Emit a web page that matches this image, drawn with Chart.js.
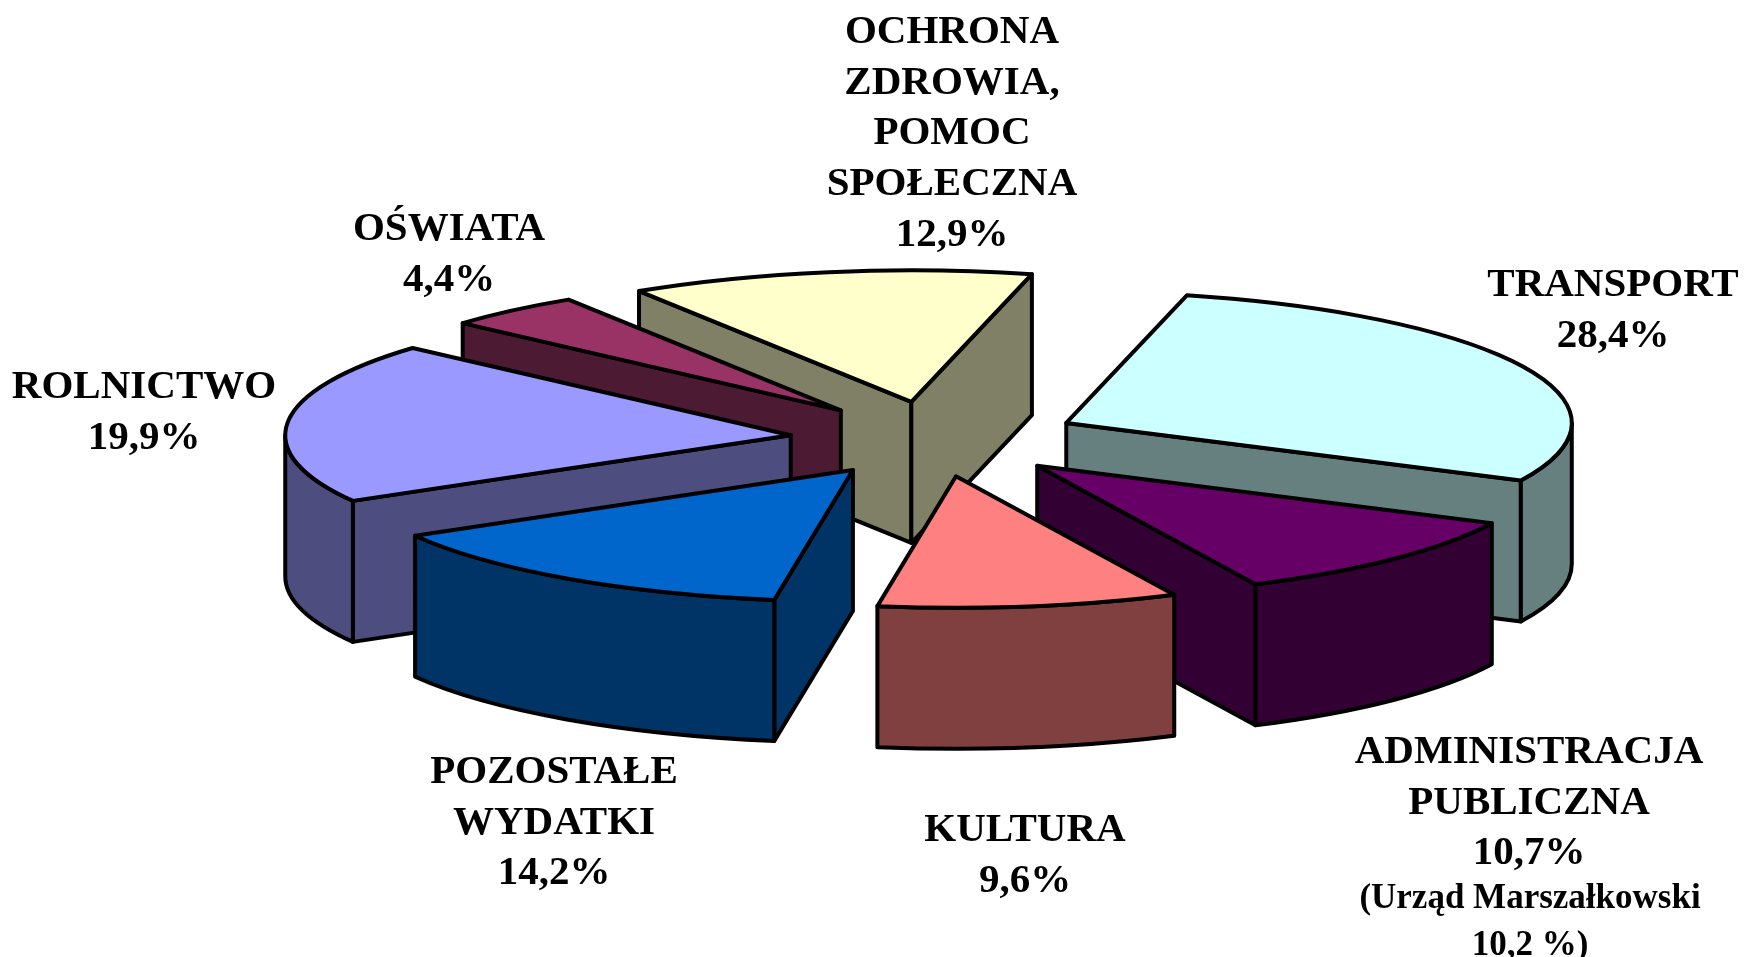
<!DOCTYPE html>
<html lang="pl">
<head>
    <meta charset="UTF-8">
    <title>Wydatki</title>
    <script src="https://cdn.jsdelivr.net/npm/chart.js"></script>
    <style>
        html, body { margin: 0; background: #fff; }
        #wrap { width: 1746px; height: 957px; }
    </style>
</head>
<body>
    <div id="wrap"><canvas id="grafWydatki"></canvas></div>

<script>
    const kategorie = ['TRANSPORT', 'ADMINISTRACJA PUBLICZNA', 'KULTURA', 'POZOSTAŁE WYDATKI', 'ROLNICTWO', 'OŚWIATA', 'OCHRONA ZDROWIA, POMOC SPOŁECZNA'];
    const wartosci = [28.4, 10.7, 9.6, 14.2, 19.9, 4.4, 12.9];
    const kolory = ['#CCFFFF', '#660066', '#FF8080', '#0066CC', '#9999FF', '#993366', '#FFFFCC'];
    const koloryScian = ['#668080', '#330033', '#804040', '#003366', '#4D4D80', '#4D1A33', '#808066'];

    // opisy: kazda linia osobno, x = srodek tekstu, y = linia bazowa
    const opisy = [
        { x: 1613, y: 296, linie: ['TRANSPORT', '28,4%'] },
        { x: 1529, y: 763, linie: ['ADMINISTRACJA', 'PUBLICZNA', '10,7%'] },
        { x: 1025, y: 841, linie: ['KULTURA', '9,6%'] },
        { x: 554, y: 783, linie: ['POZOSTAŁE', 'WYDATKI', '14,2%'] },
        { x: 144, y: 398, linie: ['ROLNICTWO', '19,9%'] },
        { x: 449, y: 240, linie: ['OŚWIATA', '4,4%'] },
        { x: 952, y: 43, linie: ['OCHRONA', 'ZDROWIA,', 'POMOC', 'SPOŁECZNA', '12,9%'] }
    ];
    const przypis = { x: 1530, y: 908, linie: ['(Urząd Marszałkowski', '10,2 %)'] };

    const SPLASZCZENIE = 0.26;
    const WYSUNIECIE = 145;
    const GLEBOKOSC = 141;
    const GRUBOSC = 4;

    const pie3d = {
        id: 'pie3d',
        beforeDatasetsDraw(chart) {
            const ctx = chart.ctx;
            const wszystkie = chart.getDatasetMeta(0).data;
            const luki = wszystkie.slice();

            // od tylu do przodu
            luki.sort((a, b) => Math.sin((a.startAngle + a.endAngle) / 2) - Math.sin((b.startAngle + b.endAngle) / 2));

            luki.forEach(luk => {
                const i = wszystkie.indexOf(luk);
                const pol = (luk.startAngle + luk.endAngle) / 2;
                const x = luk.x + Math.cos(pol) * WYSUNIECIE;
                const y = luk.y + Math.sin(pol) * WYSUNIECIE * SPLASZCZENIE;
                const rx = luk.outerRadius;
                const ry = rx * SPLASZCZENIE;
                const s = luk.startAngle;
                const e = luk.endAngle;

                ctx.save();
                ctx.lineWidth = GRUBOSC;
                ctx.lineJoin = 'round';
                ctx.strokeStyle = '#000';
                ctx.fillStyle = koloryScian[i];

                const krawedz = (kat) => {
                    ctx.beginPath();
                    ctx.moveTo(x, y);
                    ctx.lineTo(x + Math.cos(kat) * rx, y + Math.sin(kat) * ry);
                    ctx.lineTo(x + Math.cos(kat) * rx, y + Math.sin(kat) * ry + GLEBOKOSC);
                    ctx.lineTo(x, y + GLEBOKOSC);
                    ctx.closePath();
                    ctx.fill();
                    ctx.stroke();
                };

                if (Math.cos(s) < 0) krawedz(s);
                if (Math.cos(e) > 0) krawedz(e);

                // sciana zewnetrzna, tylko widoczne przedzialy katow
                [[0, Math.PI], [2 * Math.PI, 3 * Math.PI], [4 * Math.PI, 5 * Math.PI]].forEach(([od, doKat]) => {
                    const a = Math.max(s, od);
                    const b = Math.min(e, doKat);
                    if (b <= a) return;
                    ctx.beginPath();
                    ctx.ellipse(x, y, rx, ry, 0, a, b);
                    ctx.ellipse(x, y + GLEBOKOSC, rx, ry, 0, b, a, true);
                    ctx.closePath();
                    ctx.fill();
                    ctx.stroke();
                });
                ctx.restore();

                // wierzch rysuje sam Chart.js, tylko splaszczony
                ctx.save();
                ctx.translate(x, y);
                ctx.scale(1, SPLASZCZENIE);
                ctx.translate(-luk.x, -luk.y);
                luk.draw(ctx);
                ctx.restore();

                ctx.save();
                ctx.lineWidth = GRUBOSC;
                ctx.lineJoin = 'round';
                ctx.strokeStyle = '#000';
                ctx.beginPath();
                ctx.moveTo(x, y);
                ctx.ellipse(x, y, rx, ry, 0, s, e);
                ctx.closePath();
                ctx.stroke();
                ctx.restore();
            });
            return false;
        },
        afterDraw(chart) {
            const ctx = chart.ctx;
            ctx.save();
            ctx.fillStyle = '#000';
            ctx.textAlign = 'center';
            ctx.textBaseline = 'alphabetic';
            ctx.font = 'bold 41px "Liberation Serif"';
            opisy.forEach(o => {
                o.linie.forEach((t, n) => ctx.fillText(t, o.x, o.y + n * 50.7));
            });
            ctx.font = 'bold 35px "Liberation Serif"';
            przypis.linie.forEach((t, n) => ctx.fillText(t, przypis.x, przypis.y + n * 47));
            ctx.restore();
        }
    };

    new Chart(document.getElementById('grafWydatki').getContext('2d'), {
        type: 'pie',
        data: {
            labels: kategorie,
            datasets: [{
                data: wartosci,
                backgroundColor: kolory,
                borderWidth: 0
            }]
        },
        options: {
            responsive: true,
            maintainAspectRatio: false,
            animation: false,
            rotation: 13.8,
            radius: 505.5,
            layout: { padding: { left: 124, bottom: 79 } },
            plugins: {
                legend: { display: false },
                tooltip: { enabled: false }
            }
        },
        plugins: [pie3d]
    });
</script>
</body>
</html>
